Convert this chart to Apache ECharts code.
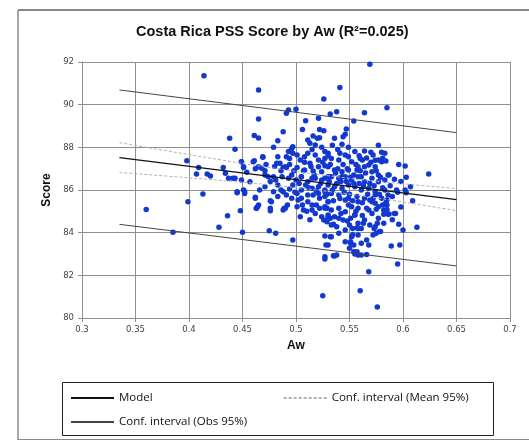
<!DOCTYPE html>
<html>
<head>
<meta charset="utf-8">
<script src="https://cdn.jsdelivr.net/npm/echarts@6/dist/echarts.min.js"></script>
<style>
    html, body { margin: 0; padding: 0; background: #fff; }
    #chart { width: 529px; height: 445px; }
</style>
</head>
<body>
<div id="chart"></div>
<script>
// 观测点 [Aw, Score]
const points = [
    [0.360, 85.09], [0.385, 84.02], [0.398, 87.37], [0.399, 85.45], [0.407, 86.75], [0.409, 87.06], [0.413, 85.81],
    [0.414, 91.36], [0.417, 86.75], [0.420, 86.66], [0.428, 84.25], [0.432, 87.06], [0.434, 86.78], [0.436, 84.79],
    [0.438, 88.42], [0.443, 87.91], [0.443, 86.55], [0.445, 85.87], [0.448, 85.03], [0.449, 87.33], [0.450, 84.02],
    [0.451, 87.09], [0.451, 86.00], [0.452, 85.84], [0.461, 88.55], [0.461, 87.37], [0.462, 87.00], [0.462, 85.66],
    [0.464, 85.22], [0.463, 85.14], [0.465, 90.69], [0.465, 89.33], [0.465, 88.44], [0.468, 87.02], [0.469, 87.53],
    [0.471, 86.90], [0.475, 84.09], [0.476, 85.03], [0.476, 85.50], [0.479, 88.00], [0.481, 83.97], [0.482, 87.25],
    [0.483, 88.31], [0.488, 88.73], [0.488, 87.05], [0.488, 85.06], [0.489, 85.14], [0.491, 87.05], [0.491, 89.60],
    [0.493, 89.75], [0.497, 83.66], [0.497, 88.03], [0.500, 89.78], [0.506, 88.84], [0.509, 89.25], [0.511, 88.34],
    [0.513, 88.19], [0.516, 88.53], [0.518, 88.11], [0.520, 88.42], [0.521, 89.36], [0.522, 88.84], [0.522, 88.45],
    [0.525, 81.04], [0.526, 90.27], [0.526, 88.78], [0.527, 82.87], [0.527, 82.77], [0.528, 83.42], [0.527, 83.84],
    [0.532, 89.56], [0.538, 89.67], [0.536, 82.91], [0.538, 82.95], [0.536, 88.42], [0.541, 90.81], [0.543, 88.14],
    [0.544, 88.50], [0.546, 88.61], [0.547, 88.86], [0.551, 83.58], [0.552, 83.81], [0.554, 83.11], [0.554, 89.23],
    [0.555, 83.00], [0.558, 82.95], [0.560, 81.28], [0.561, 83.50], [0.564, 89.62], [0.564, 87.83], [0.566, 82.98],
    [0.568, 83.42], [0.568, 82.17], [0.569, 91.89], [0.570, 87.77], [0.572, 87.64], [0.572, 83.89], [0.575, 83.97],
    [0.576, 80.51], [0.578, 84.05], [0.580, 87.77], [0.582, 84.44], [0.583, 87.72], [0.581, 87.49], [0.584, 87.36],
    [0.585, 89.86], [0.585, 85.53], [0.585, 85.30], [0.586, 84.86], [0.587, 86.70], [0.589, 83.37], [0.592, 84.90],
    [0.595, 82.53], [0.597, 83.42], [0.600, 84.12], [0.602, 87.12], [0.602, 86.00], [0.607, 86.15], [0.613, 84.25],
    [0.624, 86.75],
    [0.504, 84.75], [0.501, 85.22], [0.507, 85.06], [0.515, 85.06], [0.519, 85.30], [0.524, 84.75], [0.526, 84.59],
    [0.529, 84.51], [0.530, 84.75], [0.529, 85.14], [0.530, 84.83], [0.532, 84.67], [0.540, 84.67], [0.533, 84.36],
    [0.538, 84.28], [0.532, 83.81], [0.533, 83.81], [0.530, 83.42], [0.535, 82.92], [0.550, 84.36], [0.557, 84.23],
    [0.558, 84.44], [0.555, 84.83], [0.558, 85.14], [0.549, 85.30], [0.549, 85.61], [0.554, 83.42], [0.561, 82.95],
    [0.574, 84.28], [0.577, 84.67], [0.582, 84.86], [0.582, 85.06], [0.585, 85.09], [0.587, 84.87], [0.593, 84.90],
    [0.603, 85.87], [0.573, 84.20], [0.563, 84.44], [0.558, 84.20], [0.576, 84.44], [0.551, 83.50], [0.553, 83.90],
    [0.579, 84.05],
    [0.490, 85.14], [0.477, 85.45], [0.476, 85.14], [0.465, 85.30], [0.463, 85.14], [0.452, 85.92], [0.445, 85.92],
    [0.462, 85.61], [0.466, 86.00], [0.479, 85.92], [0.483, 85.69], [0.488, 85.92], [0.496, 85.61], [0.502, 85.53],
    [0.511, 85.45], [0.516, 85.77], [0.522, 85.61], [0.527, 85.22], [0.505, 86.00], [0.494, 86.05], [0.483, 86.23],
    [0.471, 86.15], [0.457, 86.39], [0.449, 86.47], [0.441, 86.55], [0.437, 86.55],
    [0.493, 87.80], [0.496, 87.95], [0.497, 87.72], [0.491, 87.56], [0.494, 87.48], [0.501, 87.64], [0.504, 87.41],
    [0.508, 87.56], [0.513, 87.25], [0.518, 87.64], [0.521, 87.41], [0.527, 87.48], [0.530, 87.72], [0.469, 87.56],
    [0.460, 87.33], [0.465, 87.09], [0.449, 87.33], [0.451, 87.05], [0.454, 86.83], [0.483, 87.56], [0.485, 87.25],
    [0.490, 87.09], [0.501, 87.05], [0.508, 86.94], [0.516, 86.89], [0.524, 86.86], [0.479, 86.62], [0.471, 86.70],
    [0.496, 86.70], [0.505, 86.62], [0.515, 86.55], [0.527, 86.55], [0.521, 87.09], [0.511, 87.72], [0.527, 87.14],
    [0.527, 87.80], [0.530, 87.60], [0.533, 87.48], [0.541, 87.72], [0.546, 87.64], [0.549, 87.56], [0.540, 87.41],
    [0.552, 87.33], [0.560, 87.48], [0.558, 87.09], [0.564, 87.09], [0.574, 87.09], [0.571, 86.86], [0.577, 86.70],
    [0.586, 86.70], [0.530, 87.09], [0.536, 86.94], [0.543, 86.86], [0.549, 86.94], [0.554, 86.70], [0.561, 86.62],
    [0.568, 87.17], [0.531, 86.62], [0.543, 86.62], [0.557, 86.94], [0.562, 87.41], [0.580, 87.33], [0.577, 87.41],
    [0.533, 86.62], [0.540, 86.55], [0.546, 86.62], [0.552, 86.47], [0.558, 86.62], [0.564, 86.39], [0.571, 86.55],
    [0.577, 86.39], [0.583, 86.47], [0.530, 86.23], [0.536, 86.15], [0.543, 86.08], [0.549, 86.23], [0.555, 86.15],
    [0.561, 86.00], [0.568, 86.08], [0.574, 85.92], [0.527, 85.92], [0.533, 85.84], [0.540, 85.77], [0.546, 85.53],
    [0.530, 85.45], [0.527, 85.14], [0.533, 85.06], [0.564, 85.61], [0.569, 85.53], [0.566, 85.14], [0.568, 85.06],
    [0.574, 85.38], [0.577, 85.22], [0.581, 85.30], [0.586, 85.77], [0.583, 86.00], [0.574, 85.77], [0.571, 85.45],
    [0.580, 85.61], [0.558, 85.45], [0.552, 85.22], [0.555, 84.83], [0.546, 84.98], [0.540, 85.14], [0.536, 84.75],
    [0.544, 84.59], [0.551, 84.67], [0.564, 84.59], [0.569, 84.36], [0.561, 84.20], [0.553, 84.20], [0.546, 84.12],
    [0.540, 83.97], [0.558, 83.89], [0.566, 83.66], [0.550, 83.27], [0.557, 83.11], [0.546, 83.58],
    [0.474, 86.62], [0.481, 86.47], [0.487, 86.62], [0.493, 86.55], [0.500, 86.47], [0.505, 86.62], [0.511, 86.39],
    [0.518, 86.55], [0.524, 86.47], [0.530, 86.62], [0.497, 86.23], [0.509, 86.23], [0.515, 86.08], [0.521, 86.15],
    [0.527, 86.00], [0.501, 85.84], [0.511, 85.77], [0.521, 85.84], [0.527, 85.69], [0.505, 85.61], [0.491, 85.77],
    [0.530, 85.45], [0.515, 85.30],
    [0.503, 86.30], [0.507, 86.90], [0.512, 86.10], [0.514, 87.10], [0.517, 86.70], [0.519, 85.95], [0.523, 86.30],
    [0.525, 87.30], [0.529, 85.80], [0.531, 86.40], [0.532, 87.20], [0.534, 86.00], [0.535, 85.50], [0.537, 86.80],
    [0.538, 86.30], [0.539, 87.00], [0.541, 85.60], [0.542, 86.40], [0.544, 87.20], [0.545, 85.90], [0.547, 86.40],
    [0.548, 87.00], [0.550, 85.80], [0.551, 86.60], [0.553, 85.50], [0.554, 86.30], [0.556, 87.20], [0.557, 85.70],
    [0.559, 86.30], [0.560, 86.90], [0.562, 85.40], [0.563, 86.20], [0.565, 86.80], [0.567, 85.80], [0.569, 86.30],
    [0.570, 87.30], [0.572, 85.60], [0.573, 86.20], [0.575, 86.90], [0.578, 85.80], [0.579, 86.60], [0.581, 86.10],
    [0.584, 85.40], [0.588, 86.20], [0.590, 85.70], [0.592, 86.50], [0.595, 85.90], [0.598, 86.40], [0.506, 85.30],
    [0.510, 85.00], [0.513, 84.60], [0.518, 84.90], [0.522, 85.15], [0.535, 84.40], [0.542, 84.90], [0.548, 84.55],
    [0.556, 85.00], [0.562, 84.80], [0.571, 84.90], [0.575, 85.10], [0.498, 86.90], [0.494, 87.20], [0.486, 86.90],
    [0.480, 87.10], [0.476, 86.40], [0.472, 87.20], [0.486, 86.00], [0.492, 85.30], [0.499, 85.90], [0.508, 87.30],
    [0.515, 87.90], [0.524, 88.00], [0.534, 88.10], [0.539, 87.90], [0.549, 88.00], [0.555, 87.80], [0.559, 87.60],
    [0.566, 87.50], [0.574, 87.40], [0.577, 88.10], [0.596, 87.20], [0.594, 86.00], [0.603, 86.60], [0.609, 85.50],
    [0.598, 85.20], [0.590, 84.60], [0.596, 84.40]
];

// 回归线与置信区间
const modelLine = [[0.335, 87.52], [0.65, 85.55]];
const obsUpper = [[0.335, 90.69], [0.65, 88.69]];
const obsLower = [[0.335, 84.39], [0.65, 82.44]];
const meanUpper = [[0.335, 88.22], [0.38, 87.83], [0.43, 87.41], [0.48, 87.02], [0.53, 86.67], [0.58, 86.39], [0.65, 86.07]];
const meanLower = [[0.335, 86.82], [0.38, 86.65], [0.43, 86.45], [0.48, 86.22], [0.53, 85.93], [0.58, 85.59], [0.65, 85.03]];

const legendNames = ['Model', 'Conf. interval (Mean 95%)', 'Conf. interval (Obs 95%)'];

const myChart = echarts.init(document.getElementById('chart'), null, { renderer: 'canvas' });

const gridColor = '#8f8f8f';
const labelStyle = { color: '#444', fontSize: 8.5, fontFamily: 'DejaVu Sans' };
const legendText = { color: '#111', fontSize: 11.5, fontFamily: 'Open Sans' };

const option = {
    animation: false,
    title: {
        text: 'Costa Rica PSS Score by Aw (R²=0.025)',
        left: 131,
        top: 19,
        textStyle: { fontSize: 14.5, fontWeight: 'bold', color: '#111', fontFamily: 'Liberation Sans' },
    },
    legend: [
        {
            data: legendNames.slice(0, 2),
            left: 65,
            top: 387,
            itemWidth: 43,
            itemHeight: 14,
            itemGap: 130,
            itemStyle: { opacity: 0 },
            textStyle: legendText,
        },
        {
            data: legendNames.slice(2),
            left: 65,
            top: 411,
            itemWidth: 43,
            itemHeight: 14,
            itemStyle: { opacity: 0 },
            textStyle: legendText,
        },
    ],
    graphic: [
        { type: 'line', shape: { x1: 18, y1: 10, x2: 529, y2: 10 }, style: { stroke: '#8a8a8a', lineWidth: 2 } },
        { type: 'line', shape: { x1: 18, y1: 10, x2: 18, y2: 440 }, style: { stroke: '#8a8a8a', lineWidth: 1.5 } },
        { type: 'line', shape: { x1: 18, y1: 439.5, x2: 529, y2: 439.5 }, style: { stroke: '#8a8a8a', lineWidth: 1 } },
        { type: 'rect', shape: { x: 62.5, y: 382.5, width: 431, height: 53 }, style: { fill: 'none', stroke: '#222', lineWidth: 1 } },
    ],
    grid: {
        left: 82,
        right: 19,
        top: 62,
        bottom: 127,
    },
    xAxis: {
        type: 'value',
        min: 0.3,
        max: 0.7,
        interval: 0.05,
        name: 'Aw',
        nameLocation: 'middle',
        nameGap: 22,
        nameTextStyle: { fontSize: 12, fontWeight: 'bold', color: '#111', fontFamily: 'Liberation Sans' },
        axisLine: { lineStyle: { color: gridColor } },
        axisTick: { show: true, length: 4, lineStyle: { color: gridColor } },
        axisLabel: Object.assign({ margin: 7, formatter: v => +v.toFixed(2) }, labelStyle),
        splitLine: { show: true, lineStyle: { color: gridColor } },
    },
    yAxis: {
        type: 'value',
        min: 80,
        max: 92,
        interval: 2,
        name: 'Score',
        nameLocation: 'middle',
        nameGap: 28,
        nameTextStyle: { fontSize: 12, fontWeight: 'bold', color: '#111', fontFamily: 'Liberation Sans' },
        axisLine: { show: true, lineStyle: { color: gridColor } },
        axisTick: { show: true, length: 4, lineStyle: { color: gridColor } },
        axisLabel: Object.assign({ margin: 8 }, labelStyle),
        splitLine: { show: true, lineStyle: { color: gridColor } },
    },
    series: [
        {
            name: 'Score',
            type: 'scatter',
            data: points,
            symbolSize: 5.5,
            itemStyle: { color: '#1238d0', opacity: 1 },
        },
        {
            name: legendNames[0],
            type: 'line',
            data: modelLine,
            symbol: 'none',
            lineStyle: { color: '#111', width: 1.3 },
            z: 3,
        },
        {
            name: legendNames[1],
            type: 'line',
            data: meanUpper,
            symbol: 'none',
            smooth: true,
            lineStyle: { color: '#b0b0b0', width: 1, type: [3, 2] },
            z: 3,
        },
        {
            name: legendNames[1],
            type: 'line',
            data: meanLower,
            symbol: 'none',
            smooth: true,
            lineStyle: { color: '#b0b0b0', width: 1, type: [3, 2] },
            z: 3,
        },
        {
            name: legendNames[2],
            type: 'line',
            data: obsUpper,
            symbol: 'none',
            lineStyle: { color: '#444', width: 1 },
            z: 3,
        },
        {
            name: legendNames[2],
            type: 'line',
            data: obsLower,
            symbol: 'none',
            lineStyle: { color: '#444', width: 1 },
            z: 3,
        },
    ],
};

myChart.setOption(option);
window.addEventListener('resize', () => {
    myChart.resize();
});
</script>
</body>
</html>
